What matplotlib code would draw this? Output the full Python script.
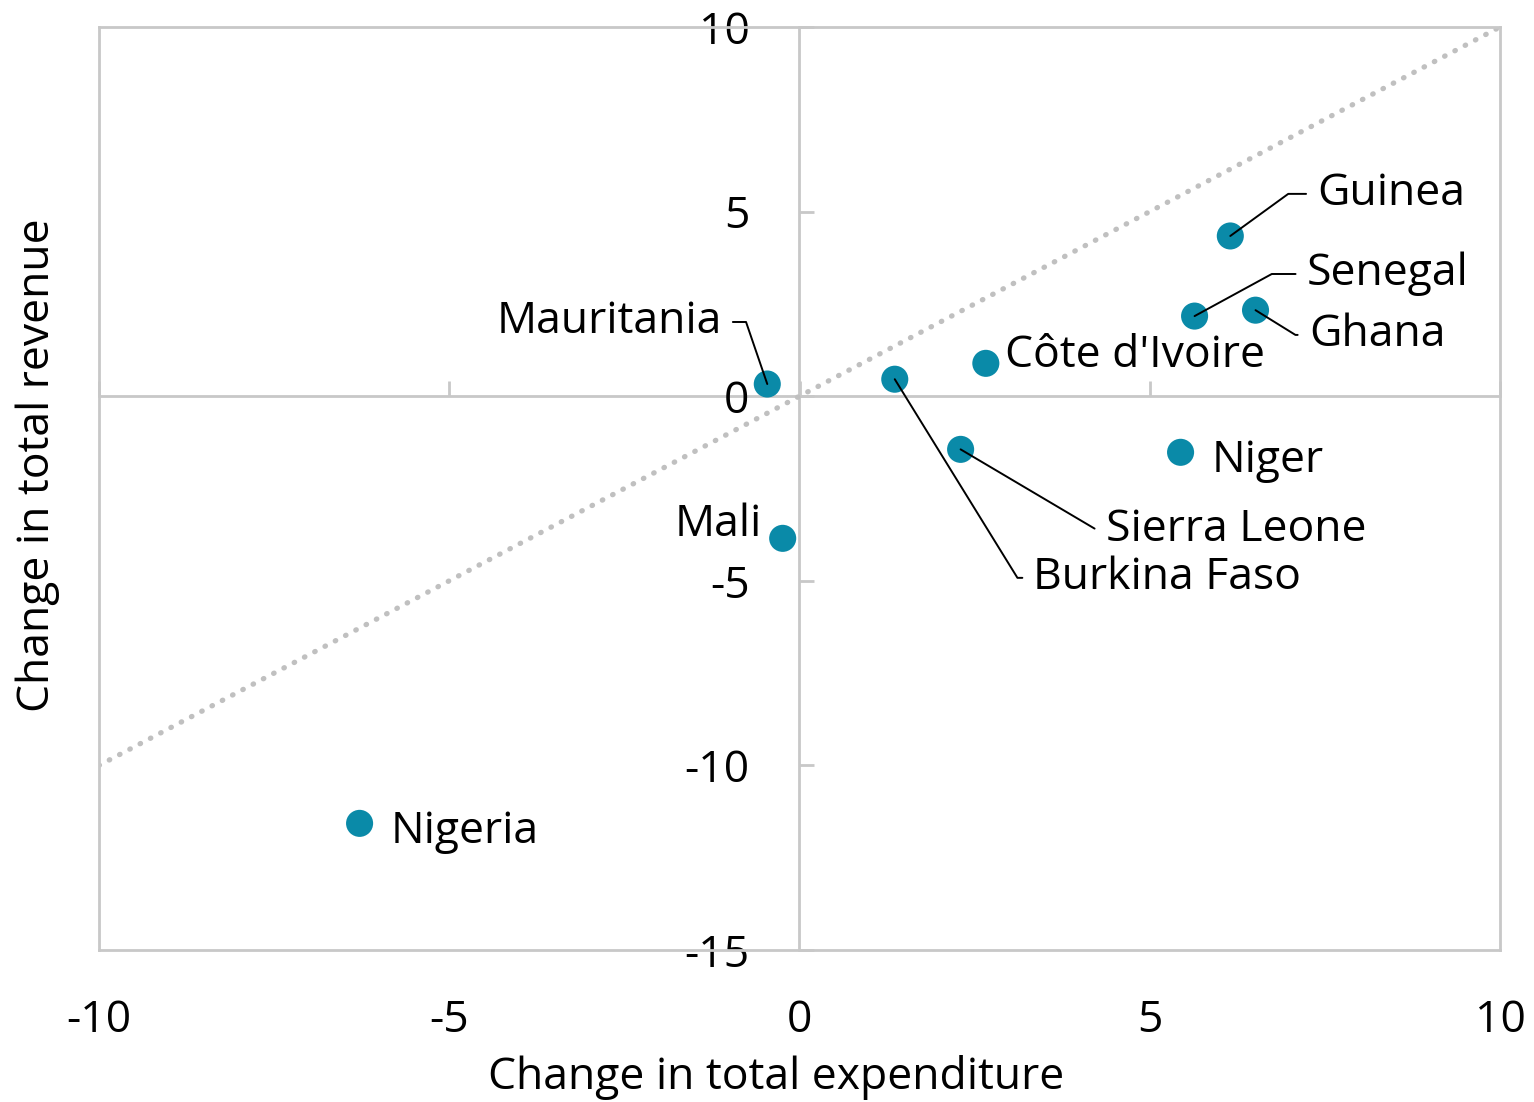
import matplotlib
matplotlib.use("Agg")
import matplotlib.pyplot as plt

plt.rcParams['font.family'] = ['Open Sans', 'DejaVu Sans']
plt.rcParams['axes.unicode_minus'] = False

countries = ['Guinea', 'Senegal', 'Ghana', "Côte d'Ivoire", 'Mauritania',
             'Burkina Faso', 'Sierra Leone', 'Niger', 'Mali', 'Nigeria']
expenditure = [6.15, 5.64, 6.51, 2.66, -0.46, 1.36, 2.30, 5.44, -0.24, -6.28]
revenue = [4.34, 2.17, 2.33, 0.89, 0.33, 0.46, -1.44, -1.52, -3.85, -11.57]

# label placement: text anchor (data), alignment, leader angle (None = no leader)
label_xy = [(7.39, 5.48), (7.24, 3.31), (7.27, 1.66), (2.93, 1.09), (-1.11, 2.01),
            (3.34, -4.92), (4.37, -3.62), (5.88, -1.75), (-0.53, -3.49), (-5.84, -11.81)]
label_ha = ['left', 'left', 'left', 'left', 'right', 'left', 'left', 'left', 'right', 'left']
leader_angle = [36, 28.6, -31.8, None, 108.9, -58.3, -30.6, None, None, None]

xticks = [-10, -5, 0, 5, 10]
yticks = [-15, -10, -5, 0, 5, 10]

grey = '#c8c8c8'
teal = '#0a8aa8'
fs = 32

fig = plt.figure(figsize=(15.34, 11.02), dpi=100)
ax = fig.add_axes([99/1534, 1-950/1102, 1401/1534, 923/1102])
ax.set_xlim(-10, 10)
ax.set_ylim(-15, 10)

for s in ax.spines.values():
    s.set_color(grey)
    s.set_linewidth(2)

# 45 degree line
ax.plot(xticks[::4], xticks[::4], color='#c0c0c0', lw=3.8,
        linestyle=(0, (0.1, 2.1)), dash_capstyle='round', zorder=1)

ax.scatter(expenditure, revenue, s=380, color=teal, edgecolor='none', zorder=3)

for i, name in enumerate(countries):
    props = None
    if leader_angle[i] is not None:
        props = dict(arrowstyle='-', color='black', lw=1.4, shrinkA=6, shrinkB=0,
                     connectionstyle=f'angle,angleA=0,angleB={leader_angle[i]},rad=0')
    ax.annotate(name, xy=(expenditure[i], revenue[i]), xytext=label_xy[i],
                ha=label_ha[i], va='center', fontsize=fs, arrowprops=props, zorder=4)

# bottom axis: labels only
ax.set_xticks(xticks)
ax.tick_params(axis='x', length=0, pad=35, labelsize=fs)
ax.set_yticks([])

# axis through y = 0
secx = ax.secondary_xaxis(0.6)
secx.set_alignment('bottom')
secx.set_xticks(xticks)
secx.tick_params(direction='in', length=11, width=2, color=grey,
                 labelbottom=False, labeltop=False)
for s in secx.spines.values():
    s.set_color(grey)
    s.set_linewidth(2)

# axis through x = 0
secy = ax.secondary_yaxis(0.5)
secy.set_alignment('left')
secy.set_yticks(yticks)
secy.tick_params(direction='in', length=11, width=2, color=grey, pad=36, labelsize=fs)
for s in secy.spines.values():
    s.set_color(grey)
    s.set_linewidth(2)

fig.text(38/1534, 1-465/1102, 'Change in total revenue', rotation=90,
         ha='center', va='center', fontsize=fs)
fig.text(776/1534, 1-1078/1102, 'Change in total expenditure',
         ha='center', va='center', fontsize=fs)

fig.savefig('out.png', dpi=100)
